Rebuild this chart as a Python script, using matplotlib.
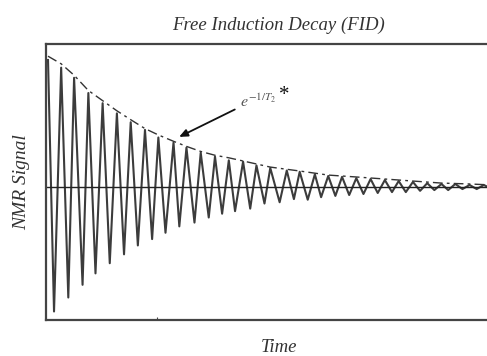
import matplotlib
matplotlib.use("Agg")
import matplotlib.pyplot as plt
import numpy as np

plt.rcParams['font.family'] = ['Liberation Serif', 'DejaVu Serif']
plt.rcParams['mathtext.fontset'] = 'stix'

# extrema of the FID trace (time in % of axis, signal in % of first peak)
peak_t = [0.45, 3.4, 6.3, 9.5, 12.7, 15.9, 19.0, 22.2, 25.2, 28.6, 31.5, 34.7, 37.9, 41.0,
          44.2, 47.2, 50.3, 54.0, 56.9, 60.3, 63.3, 66.4, 69.6, 72.8, 76.0, 79.1, 82.3,
          85.5, 88.7, 91.8, 95.0, 98.2]
peak_v = [100, 94, 86, 74, 66, 58, 51, 45, 39, 35, 31, 27, 24, 21,
          20, 17, 15, 13, 12, 10, 8.7, 8, 7, 6.3, 5.5, 4.7, 4,
          3, 2.4, 2.4, 1.6, 1.6]
trough_t = [1.8, 5.0, 8.2, 11.1, 14.3, 17.5, 20.6, 23.8, 26.8, 29.9, 33.3, 36.5, 39.5, 42.4,
            45.8, 49.0, 52.4, 55.6, 58.7, 61.7, 64.9, 68.0, 71.2, 74.4, 77.6, 80.7, 83.9,
            87.1, 90.2, 93.4, 96.6, 99.8]
trough_v = [98, 87, 77, 68, 60, 53, 46, 41, 36, 31, 28, 24, 21, 19,
            17, 13, 12, 9.5, 10, 8, 7, 6.3, 5.5, 4.7, 4, 4, 3,
            2.4, 2.4, 1.6, 1.6, 1.2]

# dashed T2* envelope
env_t = [0.45, 3.4, 6.3, 9.5, 12.7, 15.9, 19.0, 22.2, 25.2, 28.6, 31.5, 34.7, 37.9, 41.0,
         44.2, 50.3, 56.9, 63.3, 69.6, 76.0, 82.3, 88.7, 95.0, 100]
env_v = [103, 97, 88, 76, 68, 60, 53, 46, 41, 36, 32, 28, 25, 23,
         20.5, 15.7, 12.6, 9.4, 7.9, 6.3, 4.7, 3.1, 2.4, 1.6]

sig_t = []
sig_v = []
for i in range(len(peak_t)):
    sig_t += [peak_t[i], trough_t[i]]
    sig_v += [peak_v[i], -trough_v[i]]

fig = plt.figure(figsize=(4.87, 3.56), dpi=100)
ax = fig.add_axes([46/487, 1 - 320/356, 1 - 46/487 + 0.01, (320 - 44)/356])

ax.plot(sig_t, sig_v, color='#3c3c3c', linewidth=1.5)
ax.plot(env_t, env_v, color='#333333', linewidth=1.0, linestyle=(0, (7, 3, 2, 3)))
ax.axhline(0, color='#222222', linewidth=1.0)

ax.set_xlim(0, 100)
ax.set_ylim(-104.7, 112.6)
ax.set_xticks([25])
ax.set_xticklabels([''])
ax.set_yticks([])
ax.tick_params(axis='x', direction='in', length=2, color='#444444')
for s in ['left', 'top', 'bottom']:
    ax.spines[s].set_color('#444444')
    ax.spines[s].set_linewidth(1.6)
ax.spines['right'].set_visible(False)

ax.annotate('', xy=(29.3, 38.5), xytext=(42.9, 62),
            arrowprops=dict(arrowstyle='-|>,head_length=0.5,head_width=0.22',
                            color='#111111', linewidth=1.3))
ax.text(43.6, 63, r'$e^{-1/T_2}$', fontsize=11.5, color='#555555', ha='left', va='baseline')
ax.text(53.5, 72, '*', fontsize=15, color='#111111', ha='center', va='center')

fig.text(278/487, 1 - 25/356, 'Free Induction Decay (FID)', fontsize=13.5, style='italic',
         color='#333333', ha='center', va='center')
fig.text(22/487, 1 - 182/356, 'NMR Signal', fontsize=14, style='italic', rotation=90,
         color='#333333', ha='center', va='center')
fig.text(279/487, 1 - 348/356, 'Time', fontsize=13.5, style='italic',
         color='#333333', ha='center', va='center')

plt.savefig('out.png', dpi=100)
